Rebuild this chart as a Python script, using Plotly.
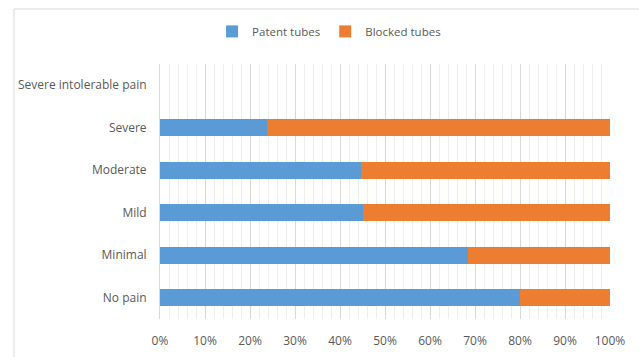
import plotly.graph_objects as go

categories = ["Severe intolerable pain", "Severe", "Moderate", "Mild", "Minimal", "No pain"]
patent = [0.0, 0.238, 0.446, 0.450, 0.684, 0.799]
blocked = [0.0, 0.762, 0.554, 0.550, 0.316, 0.201]
xticks = [i / 10 for i in range(11)]
xtick_labels = [f"{i*10}%" for i in range(11)]

font_family = "Open Sans, Noto Sans, sans-serif"
txt = "#595959"

fig = go.Figure()
fig.add_trace(go.Bar(y=categories, x=patent, name="Patent tubes", orientation="h",
                     marker=dict(color="#5b9bd5", line=dict(width=0))))
fig.add_trace(go.Bar(y=categories, x=blocked, name="Blocked tubes", orientation="h",
                     marker=dict(color="#ed7d31", line=dict(width=0))))

fig.update_layout(
    width=639, height=357,
    barmode="stack", bargap=0.6,
    paper_bgcolor="white", plot_bgcolor="white",
    margin=dict(l=160, r=29, t=64, b=38, autoexpand=False),
    font=dict(family=font_family, size=12, color=txt),
    legend=dict(orientation="h", xref="container", yref="container",
                x=0.515, y=0.912, xanchor="center", yanchor="middle",
                font=dict(size=11.5, color=txt), itemwidth=30, tracegroupgap=0,
                traceorder="normal"),
    xaxis=dict(range=[0, 1], tickvals=xticks, ticktext=xtick_labels,
               showgrid=True, gridcolor="#d9d9d9", gridwidth=1,
               minor=dict(dtick=0.02, showgrid=True, gridcolor="#eeeeee", gridwidth=1),
               zeroline=False, showline=False, ticks="", ticklabelstandoff=13,
               automargin=False,
               tickfont=dict(size=12, color=txt), fixedrange=True),
    yaxis=dict(categoryorder="array", categoryarray=categories[::-1],
               showgrid=False, zeroline=False, showline=True, linecolor="#d9d9d9",
               ticks="", ticklabelstandoff=10, automargin=False,
               tickfont=dict(size=12, color=txt)),
    shapes=[dict(type="rect", xref="paper", yref="paper",
                 x0=(14 - 160) / 450, x1=(660 - 160) / 450,
                 y0=(319 - 370) / 255, y1=(319 - 9) / 255,
                 line=dict(color="#d9d9d9", width=1), fillcolor="rgba(0,0,0,0)",
                 layer="below")],
)

fig.write_html("out.html")
